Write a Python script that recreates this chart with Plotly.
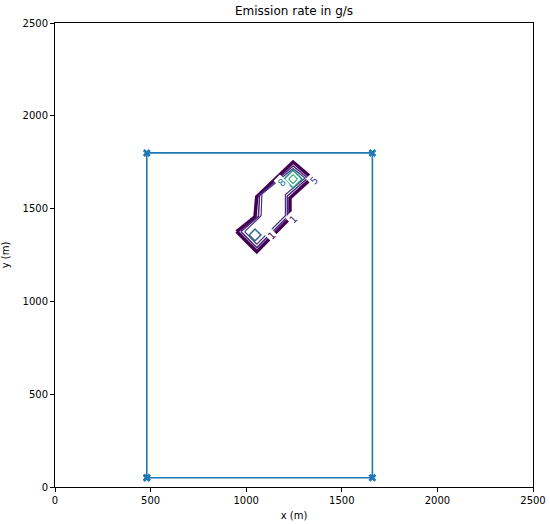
import plotly.graph_objects as go

# source area (rectangle corners, closed)
rect_x = [480, 1660, 1660, 480, 480]
rect_y = [50, 50, 1800, 1800, 50]

# contour paths (level -> closed polyline)
lvl1_x = [950, 1055, 1229, 1229, 1343, 1245, 1055, 1046, 950]
lvl1_y = [1376, 1268, 1449, 1557, 1665, 1751, 1564, 1456, 1376]

lvl2_x = [972, 1055, 1215, 1215, 1322, 1245, 1070, 1064, 972]
lvl2_y = [1376, 1290, 1455, 1568, 1665, 1730, 1573, 1458, 1376]

lvl3_x = [992, 1055, 1205, 1205, 1308, 1245, 1082, 1078, 992]
lvl3_y = [1376, 1308, 1462, 1576, 1665, 1716, 1578, 1462, 1376]

lvl4_x = [1015, 1046, 1077, 1046, 1015]
lvl4_y = [1358, 1326, 1358, 1390, 1358]

lvl5_x = [1198, 1245, 1292, 1245, 1198]
lvl5_y = [1659, 1611, 1659, 1707, 1659]

lvl6_x = [1222, 1245, 1268, 1245, 1222]
lvl6_y = [1659, 1635, 1659, 1683, 1659]

lab_x = [1135, 1245, 1355, 1187]
lab_y = [1353, 1443, 1651, 1638]
lab_txt = ["1", "1", "5", "8"]
lab_col = ["#440154", "#482878", "#3e4989", "#26828e"]

fig = go.Figure()

fig.add_trace(go.Scatter(x=rect_x, y=rect_y, mode="lines+markers",
                         line=dict(color="#1f77b4", width=1.6),
                         marker=dict(symbol="x", size=7, color="#1f77b4"),
                         showlegend=False))

levels = [(lvl1_x, lvl1_y, "#440154", 3.5),
          (lvl2_x, lvl2_y, "#482878", 1.5),
          (lvl3_x, lvl3_y, "#46327e", 1.2),
          (lvl4_x, lvl4_y, "#31688e", 1.5),
          (lvl5_x, lvl5_y, "#21918c", 1.5),
          (lvl6_x, lvl6_y, "#35b779", 1.2)]
for xs, ys, c, w in levels:
    fig.add_trace(go.Scatter(x=xs, y=ys, mode="lines",
                             line=dict(color=c, width=w), showlegend=False))

for x, y, t, c in zip(lab_x, lab_y, lab_txt, lab_col):
    fig.add_annotation(x=x, y=y, text=t, showarrow=False, textangle=-45,
                       font=dict(size=10, color=c), bgcolor="white")

# title as an annotation so it can sit just above the plot area
fig.add_annotation(x=0.5, y=1.026, xref="paper", yref="paper",
                   text="Emission rate in g/s", showarrow=False,
                   xanchor="center", yanchor="middle", font=dict(size=12))

axis = dict(range=[0, 2500], tickvals=[0, 500, 1000, 1500, 2000, 2500],
            showgrid=False, zeroline=False, showline=True, linecolor="black",
            linewidth=1, mirror=True, ticks="outside", ticklen=4,
            tickcolor="black", tickfont=dict(size=10, color="black"),
            automargin=False, ticklabeloverflow="allow")

fig.update_layout(
    width=550, height=524,
    margin=dict(l=55, r=17, t=23, b=37),
    paper_bgcolor="white", plot_bgcolor="white",
    font=dict(family="DejaVu Sans", color="black"),
    xaxis=dict(axis, title=dict(text="x (m)", font=dict(size=10), standoff=6)),
    yaxis=dict(axis, title=dict(text="y (m)", font=dict(size=10), standoff=14)),
)

# drop the default 8px body margin so the figure fills the window
fig.write_html("out.html", config={"displayModeBar": False},
               post_script="document.body.style.margin='0';")
